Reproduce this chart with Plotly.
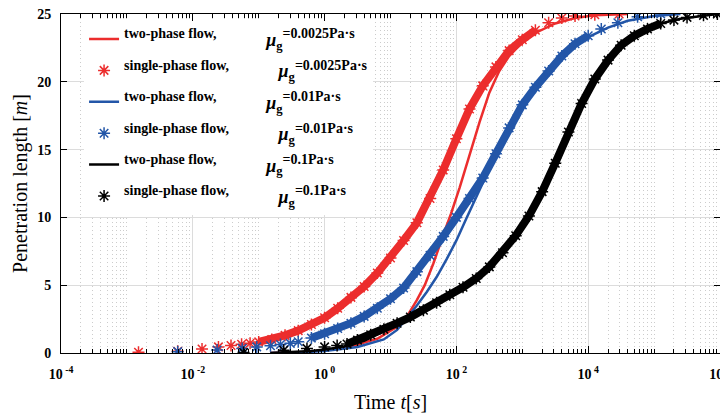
import plotly.graph_objects as go

RED = "#EC2D2D"
BLUE = "#2356A8"
BLACK = "#000000"

# two-phase flow, mu_g = 0.0025 Pa.s
t_two_a = [0.15, 0.5, 1.0, 2.5, 6.3, 12.6, 17.8, 25.1, 33.1, 44.7, 63.1, 83.2, 112, 158, 224, 316, 447, 631, 1000, 1580, 3160, 6310, 12600, 39800]
L_two_a = [0.0, 0.08, 0.2, 0.5, 1.05, 1.94, 2.7, 3.9, 5.0, 6.6, 8.7, 10.3, 12.2, 14.6, 17.0, 19.2, 20.8, 21.9, 22.9, 23.6, 24.3, 24.7, 24.9, 25.0]

# single-phase flow, mu_g = 0.0025 Pa.s
t_one_a = [0.0015, 0.0059, 0.0138, 0.0245, 0.038, 0.055, 0.074, 0.1, 0.158, 0.251, 0.398, 0.631, 1.0, 1.58, 2.51,
           3.98, 6.31, 10, 15.8, 25.1, 39.8, 63.1, 100, 158, 251, 398, 631, 1000, 1580, 2510, 3980, 6310, 12600, 29500]
L_one_a = [0.05, 0.12, 0.3, 0.45, 0.55, 0.65, 0.72, 0.82, 1.0, 1.3, 1.65, 2.1, 2.6, 3.3, 4.1,
           4.9, 5.9, 7.0, 8.3, 9.6, 11.4, 13.5, 15.8, 18.0, 19.7, 21.1, 22.3, 23.1, 23.8, 24.35, 24.7, 24.85, 24.95, 25.0]

# two-phase flow, mu_g = 0.01 Pa.s
t_two_b = [0.15, 0.5, 1.0, 3.16, 7.9, 12.6, 17.8, 25.1, 35.5, 50.1, 70.8, 100, 141, 200, 282, 398, 562, 794, 1120, 1580,
           2510, 5010, 10000, 20000, 39800, 100000, 251000]
L_two_b = [0.0, 0.06, 0.15, 0.45, 1.0, 1.7, 2.6, 3.5, 4.5, 5.6, 6.9, 8.3, 9.9, 11.5, 13.1, 14.7, 16.2, 17.6, 18.8, 19.8,
           20.9, 22.3, 23.3, 24.0, 24.5, 24.85, 25.0]

# single-phase flow, mu_g = 0.01 Pa.s
t_one_b = [0.0059, 0.0234, 0.0562, 0.0933, 0.151, 0.214, 0.302, 0.398, 0.631, 1.0, 1.58, 2.51, 3.98, 6.31, 10, 15.8, 25.1,
           39.8, 63.1, 100, 158, 251, 398, 631, 1000, 1580, 2510, 3980, 6310, 10000, 15800, 28200, 56200, 126000]
L_one_b = [0.1, 0.22, 0.34, 0.45, 0.54, 0.62, 0.71, 0.83, 1.1, 1.42, 1.8, 2.2, 2.7, 3.3, 4.0, 4.8, 6.0,
           7.2, 8.6, 10.0, 11.4, 12.9, 14.7, 16.6, 18.3, 19.6, 20.8, 21.9, 22.8, 23.4, 23.9, 24.35, 24.8, 25.0]

# two-phase flow, mu_g = 0.1 Pa.s
t_two_c = [0.15, 0.32, 0.63, 1.0, 2.0, 3.98, 7.94, 15.8, 31.6, 63.1, 126, 251, 501, 1000, 2000, 3980, 7940,
           15800, 31600, 63100, 126000, 251000, 562000, 912000]
L_two_c = [0.0, 0.05, 0.15, 0.25, 0.5, 0.9, 1.6, 2.4, 3.1, 3.95, 4.8, 5.95, 7.4, 9.3, 11.85, 15.2, 18.4,
           20.9, 22.7, 23.65, 24.3, 24.65, 24.9, 25.0]

# single-phase flow, mu_g = 0.1 Pa.s
t_one_c = [0.059, 0.24, 0.54, 1.0, 1.55, 2.19, 3.16, 5.01, 7.94, 12.6, 20, 31.6, 50.1, 79.4, 126, 200, 316, 501, 794,
           1260, 2000, 3160, 5010, 7940, 12600, 20000, 31600, 50100, 79400, 126000, 200000, 316000, 562000, 912000]
L_one_c = [0.03, 0.2, 0.34, 0.45, 0.55, 0.66, 0.95, 1.35, 1.75, 2.2, 2.65, 3.15, 3.7, 4.3, 4.85, 5.5, 6.35, 7.4, 8.65,
           10.1, 11.9, 14.0, 16.3, 18.4, 20.2, 21.6, 22.7, 23.4, 23.9, 24.3, 24.55, 24.75, 24.9, 25.0]

x_tick_vals = [1e-4, 1e-2, 1e0, 1e2, 1e4, 1e6]
x_tick_exp = ["-4", "-2", "0", "2", "4", "6"]
y_tick_vals = [0, 5, 10, 15, 20, 25]

SERIF = "Liberation Serif"

fig = go.Figure()


def legend_label(kind, mu, gap):
    return ("<b><sup><span style='font-size:14px'>" + kind + "</span></sup>" + "\u00a0" * gap +
            "<i>μ</i><sub>g</sub><sup><span style='font-size:14px'>=" + mu + "Pa·s</span></sup></b>")


def add_line(t, L, color, label):
    fig.add_trace(go.Scatter(x=t, y=L, mode="lines", line=dict(color=color, width=2.5),
                             name=label, legendgroup=label))


def add_stars(t, L, color, label, i0, i1):
    # the stars overlap into a solid band in the middle part
    fig.add_trace(go.Scatter(x=t[i0:i1], y=L[i0:i1], mode="lines", line=dict(color=color, width=8),
                             showlegend=False, hoverinfo="skip"))
    fig.add_trace(go.Scatter(x=t, y=L, mode="markers", name=label, legendgroup=label,
                             marker=dict(symbol="asterisk-open", size=10, color=color,
                                         line=dict(color=color, width=1.5))))


add_line(t_two_a, L_two_a, RED, legend_label("two-phase flow,", "0.0025", 11))
add_stars(t_one_a, L_one_a, RED, legend_label("single-phase flow,", "0.0025", 11), 7, 29)
add_line(t_two_b, L_two_b, BLUE, legend_label("two-phase flow,", "0.01", 11))
add_stars(t_one_b, L_one_b, BLUE, legend_label("single-phase flow,", "0.01", 11), 8, 30)
add_line(t_two_c, L_two_c, BLACK, legend_label("two-phase flow,", "0.1", 11))
add_stars(t_one_c, L_one_c, BLACK, legend_label("single-phase flow,", "0.1", 11), 5, 30)

minor_vals = []
for e in range(-4, 6):
    for m in range(1, 10):
        if m == 1 and e % 2 == 0:
            continue
        minor_vals.append(m * 10.0 ** e)

fig.update_xaxes(
    type="log", range=[-4, 6], automargin=False,
    tickvals=x_tick_vals,
    ticktext=["<b>10</b><sup><b>\u00a0" + s + "</b></sup>" for s in x_tick_exp],
    tickfont=dict(family=SERIF, size=14, color="black"),
    ticks="inside", ticklen=7, tickwidth=1, tickcolor="black", ticklabelstandoff=8,
    ticklabeloverflow="allow",
    showline=True, linecolor="black", linewidth=1, mirror="ticks",
    showgrid=True, gridcolor="#DCDCDC", gridwidth=1,
    minor=dict(tickvals=minor_vals, ticks="inside", ticklen=4, tickcolor="black",
               showgrid=True, gridcolor="#CCCCCC", griddash="1px,3px"),
    title=dict(text="Time <i>t</i>[<i>s</i>]", font=dict(family=SERIF, size=20, color="black"), standoff=14),
)
fig.update_yaxes(
    range=[0, 25], automargin=False,
    tickvals=y_tick_vals,
    ticktext=["<b>%d</b>" % v for v in y_tick_vals],
    tickfont=dict(family=SERIF, size=14, color="black"),
    ticks="inside", ticklen=6, tickwidth=1, tickcolor="black", ticklabelstandoff=6,
    ticklabeloverflow="allow",
    showline=True, linecolor="black", linewidth=1, mirror="ticks",
    showgrid=True, gridcolor="#DCDCDC", gridwidth=1, zeroline=False,
    title=dict(text="Penetration length [<i>m</i>]", font=dict(family=SERIF, size=20, color="black"), standoff=4),
)

# the page puts the figure 8px in from the top-left corner, so the figure is 8px smaller
fig.update_layout(
    width=720, height=407,
    margin=dict(l=53, r=8, t=6, b=62),
    plot_bgcolor="white", paper_bgcolor="white",
    font=dict(family=SERIF, color="black"),
    legend=dict(x=0.035, y=0.98, xanchor="left", yanchor="top", bgcolor="white",
                font=dict(family=SERIF, size=18, color="black"),
                traceorder="grouped", tracegroupgap=5),
)

fig.write_html("out.html")
